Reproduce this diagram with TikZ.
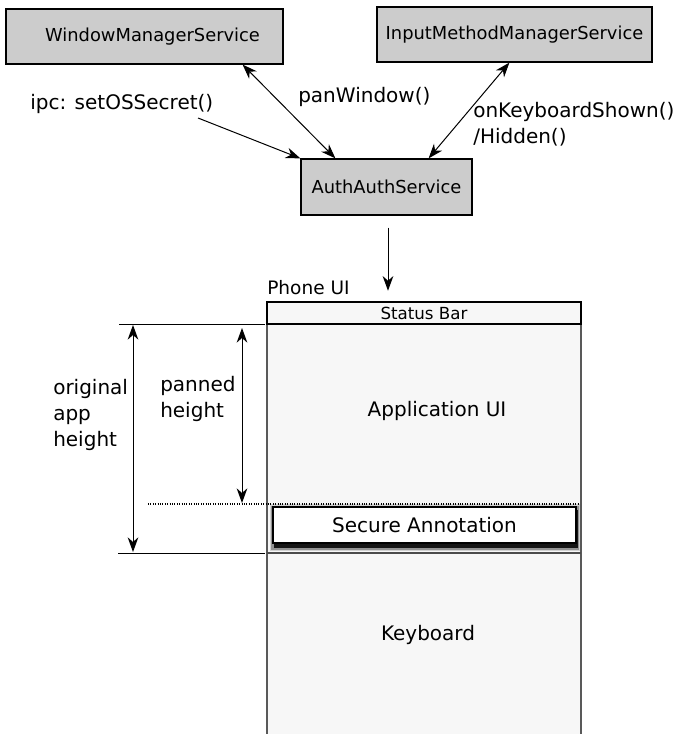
\documentclass[tikz,border=0pt]{standalone}
\usepackage{fontspec}
\setmainfont{DejaVu Sans}
\usetikzlibrary{calc,arrows.meta}

\begin{document}
\begin{tikzpicture}[x=0.75pt,y=-0.75pt,>={Stealth[length=11pt,width=8pt,inset=3.5pt]},
    service/.style={draw=black,line width=0.9pt,fill=black!20,inner sep=0pt,
      font=\fontsize{13.4}{16}\selectfont},
    lbl/.style={inner sep=0pt,align=left,font=\fontsize{15}{19.5}\selectfont},
    phonetxt/.style={inner sep=0pt,font=\fontsize{15}{18}\selectfont}]
   \useasboundingbox (0,0) rectangle (679,734);
   \node[service,minimum width=207.75pt,minimum height=41.25pt] (wms) at (144.5,36.5) {\hspace{12pt}WindowManagerService};
   \node[service,minimum width=206.25pt,minimum height=41.25pt] (imms) at (514.5,34.5) {InputMethodManagerService};
   \node[service,minimum width=128.25pt,minimum height=42pt] (aas) at (386.5,187) {AuthAuthService};
   \coordinate (ipc) at (198,118);
   \draw[->,line width=0.75pt] (ipc) -- (aas.north west);
   \draw[<->,line width=0.75pt] ($(wms.south east)+(-41,0)$) -- ($(aas.north west)+(35,0)$);
   \draw[<->,line width=0.75pt] ($(imms.south west)+(133,0)$) -- ($(aas.north east)+(-44,0)$);
   \node[lbl,anchor=west] at (30,104) {ipc: setOSSecret()};
   \node[lbl,anchor=west] at (298,97) {panWindow()};
   \node[lbl,anchor=west] at (473,124) {onKeyboardShown()\\/Hidden()};
   \fill[black!3] (267,302) rectangle (581,734);
   \draw[black!65,line width=1.5pt] (267,734) -- (267,302) -- (581,302) -- (581,734);
   \node[draw=black,line width=0.9pt,minimum width=235.5pt,minimum height=16.5pt,inner sep=0pt,
     font=\fontsize{12.5}{14}\selectfont] (status) at (424,313) {Status Bar};
   \node[inner sep=0pt,anchor=base west,font=\fontsize{13.9}{16}\selectfont] (phone) at (267,294) {Phone UI};
   \draw[->,line width=0.75pt,shorten <=9pt,shorten >=8pt] (aas.south -| 388,0) -- (status.north -| 388,0);
   \node[phonetxt] (app) at (437,411) {Application UI};
   \node[phonetxt] (kbd) at (428,635) {Keyboard};
   \draw[densely dotted,line width=0.8pt] (148,504) -- (578,504);
   \draw[black!70,line width=1pt] (267,553) -- (581,553);
   \fill[black,opacity=0.15] (270,504) rectangle (580,551);
   \fill[black,opacity=0.3] (271,506) rectangle (579,550);
   \fill[black,opacity=0.85] (274,510) rectangle (578,548);
   \node[draw=black,line width=1.1pt,fill=white,minimum width=227.25pt,minimum height=27pt,inner sep=0pt,
     font=\fontsize{15}{17}\selectfont] (secure) at (424.5,525) {Secure Annotation};
   \draw[line width=0.75pt] (119,324) -- (265,324);
   \draw[line width=0.75pt] (118,553) -- (265,553);
   \draw[<->,line width=0.75pt] (133,325) -- (133,552);
   \draw[<->,line width=0.75pt] (242,328) -- (242,503);
   \node[lbl,anchor=west] at (53,415) {original\\app\\height};
   \node[lbl,anchor=west] at (160,398.5) {panned\\height};
  \end{tikzpicture}
\end{document}
